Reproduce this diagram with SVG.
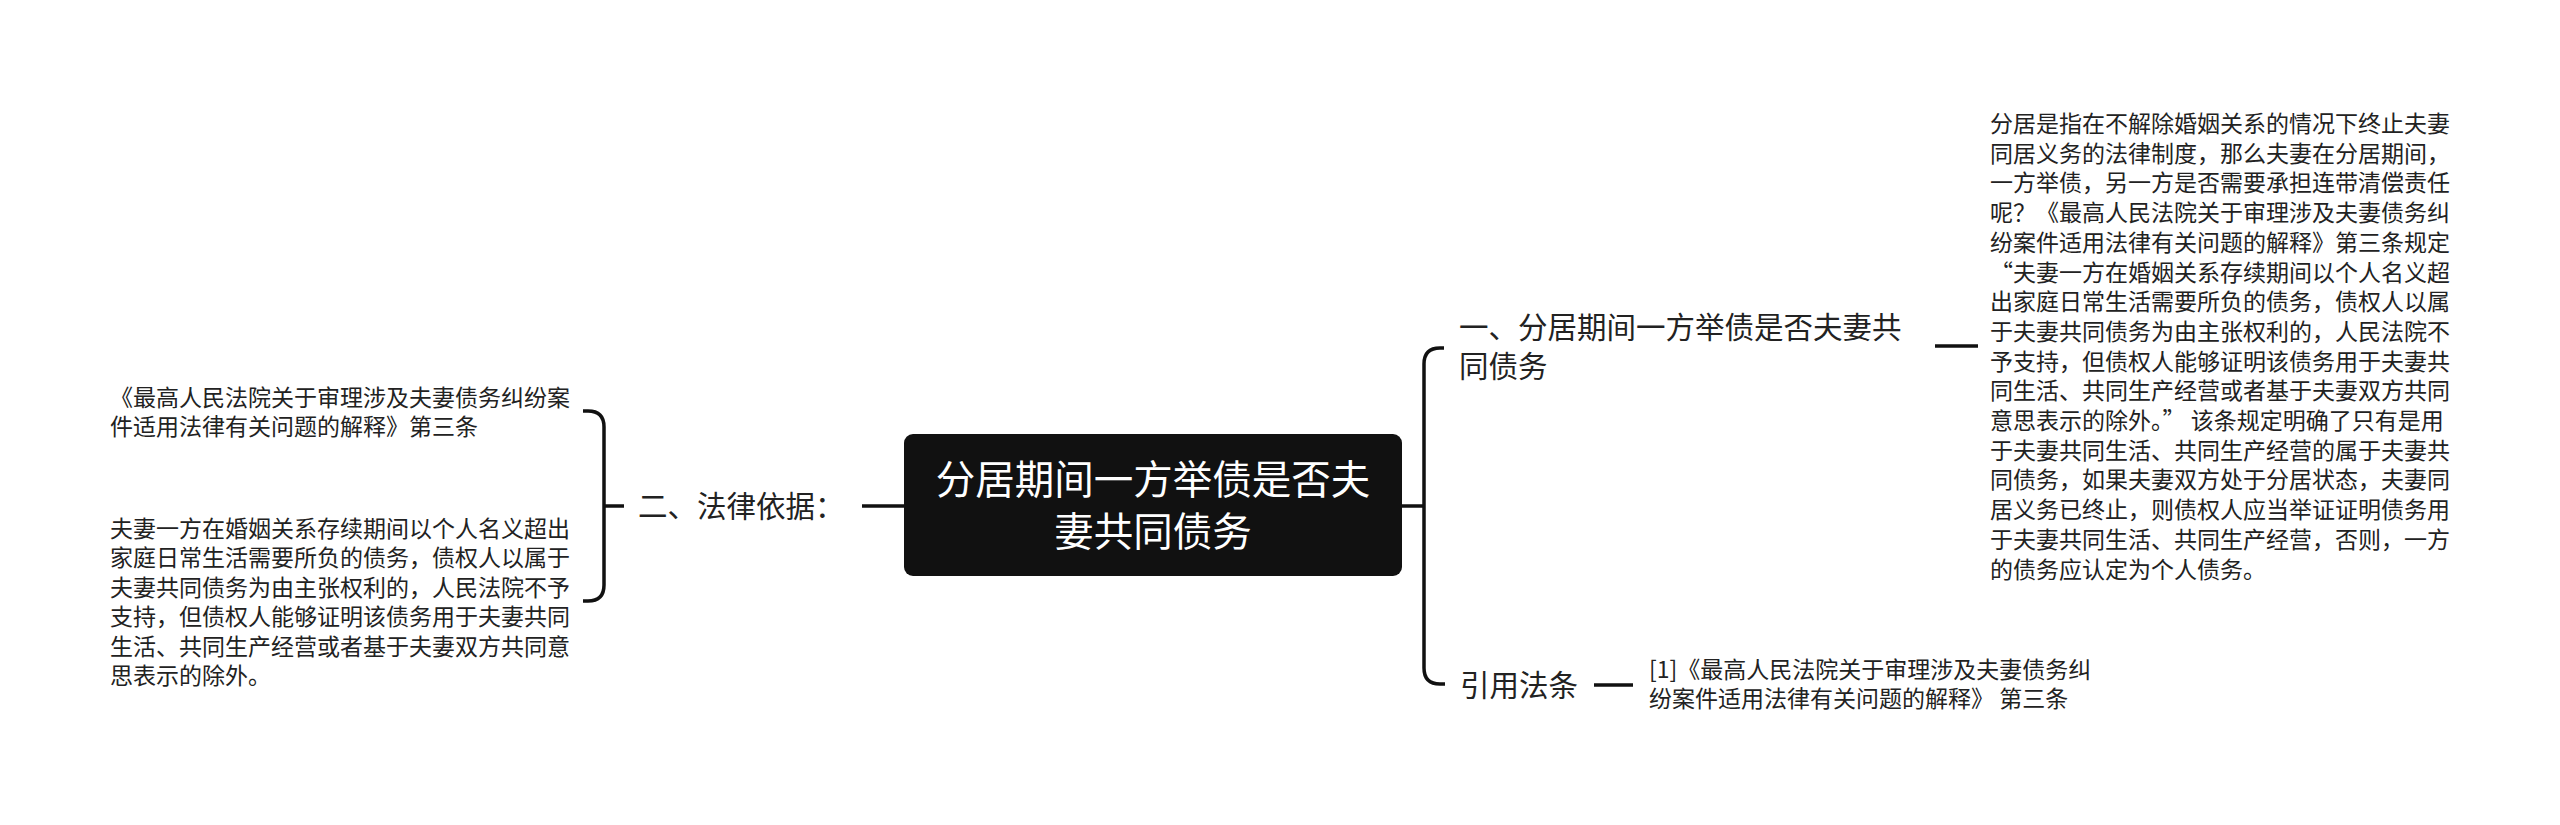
<svg xmlns="http://www.w3.org/2000/svg" width="2560" height="825" viewBox="0 0 2560 825">
<style>
text{font-family:"Noto Sans CJK SC","Noto Sans",sans-serif;fill:#222}
.c{font-size:39.5px;fill:#fff;text-anchor:middle}
.l{font-size:29.5px}
.d{font-size:23px}
.r{font-size:23px}
.fw{font-feature-settings:"fwid"}
.ln{fill:none;stroke:#111;stroke-width:3.5;stroke-linecap:butt}
</style>
<rect width="2560" height="825" fill="#fff"/>
<g id="connectors">
<path class="ln" d="M862,506H904"/>
<path class="ln" d="M583,411H588Q604,411 604,427V585Q604,601 588,601H583"/>
<path class="ln" d="M604,506H624"/>
<path class="ln" d="M1402,506H1424"/>
<path class="ln" d="M1444,348H1440Q1424,348 1424,364V668Q1424,684 1440,684H1445"/>
<path class="ln" d="M1935,346H1978"/>
<path class="ln" d="M1594,685H1633"/>
</g>
<g id="root">
<rect x="904" y="434" width="498" height="142" rx="9" fill="#111"/>
<text class="c"><tspan x="1153" y="494">分居期间一方举债是否夫</tspan><tspan x="1153" y="546">妻共同债务</tspan></text>
</g>
<g id="n-legal">
<text class="l" x="638" y="517">二、法律依据：</text>
</g>
<g id="n-legal-1">
<text class="d"><tspan x="110" y="406">《最高人民法院关于审理涉及夫妻债务纠纷案</tspan><tspan x="110" y="435">件适用法律有关问题的解释》第三条</tspan></text>
</g>
<g id="n-legal-2">
<text class="d"><tspan x="110" y="537">夫妻一方在婚姻关系存续期间以个人名义超出</tspan><tspan x="110" y="566.4">家庭日常生活需要所负的债务，债权人以属于</tspan><tspan x="110" y="595.8">夫妻共同债务为由主张权利的，人民法院不予</tspan><tspan x="110" y="625.2">支持，但债权人能够证明该债务用于夫妻共同</tspan><tspan x="110" y="654.6">生活、共同生产经营或者基于夫妻双方共同意</tspan><tspan x="110" y="684">思表示的除外。</tspan></text>
</g>
<g id="n-one">
<text class="l"><tspan x="1459" y="338">一、分居期间一方举债是否夫妻共</tspan><tspan x="1459" y="377">同债务</tspan></text>
</g>
<g id="n-one-detail">
<text class="d"><tspan x="1990" y="132">分居是指在不解除婚姻关系的情况下终止夫妻</tspan><tspan x="1990" y="161.7">同居义务的法律制度，那么夫妻在分居期间，</tspan><tspan x="1990" y="191.4">一方举债，另一方是否需要承担连带清偿责任</tspan><tspan x="1990" y="221.1">呢？《最高人民法院关于审理涉及夫妻债务纠</tspan><tspan x="1990" y="250.8">纷案件适用法律有关问题的解释》第三条规定</tspan><tspan x="1990" y="280.5" class="fw">“夫妻一方在婚姻关系存续期间以个人名义超</tspan><tspan x="1990" y="310.2">出家庭日常生活需要所负的债务，债权人以属</tspan><tspan x="1990" y="339.9">于夫妻共同债务为由主张权利的，人民法院不</tspan><tspan x="1990" y="369.6">予支持，但债权人能够证明该债务用于夫妻共</tspan><tspan x="1990" y="399.3">同生活、共同生产经营或者基于夫妻双方共同</tspan><tspan x="1990" y="429">意思表示的除外。” 该条规定明确了只有是用</tspan><tspan x="1990" y="458.7">于夫妻共同生活、共同生产经营的属于夫妻共</tspan><tspan x="1990" y="488.4">同债务，如果夫妻双方处于分居状态，夫妻同</tspan><tspan x="1990" y="518.1">居义务已终止，则债权人应当举证证明债务用</tspan><tspan x="1990" y="547.8">于夫妻共同生活、共同生产经营，否则，一方</tspan><tspan x="1990" y="577.5">的债务应认定为个人债务。</tspan></text>
</g>
<g id="n-cite">
<text class="l" x="1460" y="696">引用法条</text>
</g>
<g id="n-cite-detail">
<text class="r"><tspan x="1649" y="678">[1]《最高人民法院关于审理涉及夫妻债务纠</tspan><tspan x="1649" y="707">纷案件适用法律有关问题的解释》 第三条</tspan></text>
</g>
</svg>
